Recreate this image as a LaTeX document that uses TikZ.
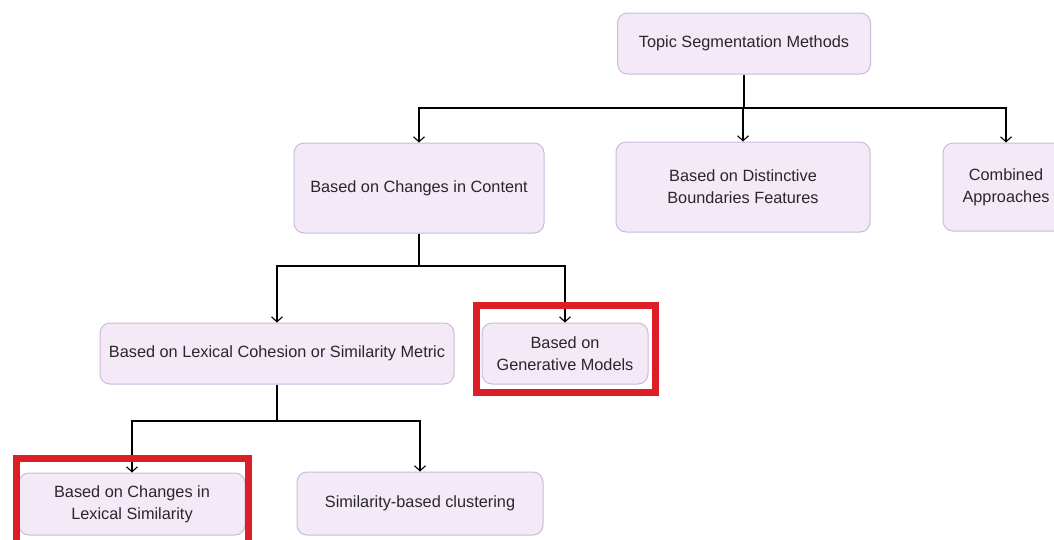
\documentclass[tikz,border=0pt]{standalone}
\usepackage{fontspec}
\setmainfont{Liberation Sans}
\usepackage{tikz}
\usetikzlibrary{arrows.meta}
\definecolor{TopicBoxFill}{RGB}{243,233,247}
\definecolor{TopicBoxLine}{RGB}{205,186,218}
\definecolor{TopicText}{RGB}{40,40,40}
\definecolor{TopicMark}{RGB}{222,30,38}

\begin{document}
\begin{tikzpicture}[x=1pt,y=-1pt,
  tbox/.style n args={2}{draw=TopicBoxLine,fill=TopicBoxFill,line width=1pt,rounded corners=10pt,
     minimum width=#1pt,minimum height=#2pt,align=center,text=TopicText,
     font=\fontsize{16.3}{22}\selectfont,inner sep=0pt},
  arr/.style={line width=1.3pt,-{Straight Barb[length=5pt,width=11pt,line width=1.1pt]}},
  ln/.style={line width=1.3pt},
  hilite/.style={draw=TopicMark,line width=7pt}]
\useasboundingbox (0,0) rectangle (1054,539);
\clip (0,0) rectangle (1054,539);
\node[tbox={253}{61}](top) at (744,43.5) {Topic Segmentation Methods};
\node[tbox={250}{90}](content) at (419,188) {Based on Changes in Content};
\node[tbox={254}{90}](distinct) at (743,187) {Based on Distinctive\\Boundaries Features};
\node[tbox={126}{88}](combined) at (1006,187) {Combined\\Approaches};
\node[tbox={354}{61}](lexical) at (277,353.5) {Based on Lexical Cohesion or Similarity Metric};
\node[tbox={166}{61}](generative) at (565,353.5) {Based on\\Generative Models};
\node[tbox={226}{62}](lexsim) at (132,504) {Based on Changes in\\Lexical Similarity};
\node[tbox={246}{63}](cluster) at (420,503.5) {Similarity-based clustering};
% bars
\coordinate (b0) at (744,108);
\coordinate (b1) at (419,266);
\coordinate (b2) at (277,421);
\draw[ln] (top.south) -- (b0);
\draw[ln] (content.south) -- (b1);
\draw[ln] (lexical.south) -- (b2);
\foreach \n in {content,distinct,combined} {
   \draw[arr] (b0) -| (\n.north);
}
\foreach \n in {lexical,generative} {
   \draw[arr] (b1) -| (\n.north);
}
\foreach \n in {lexsim,cluster} {
   \draw[arr] (b2) -| (\n.north);
}
% highlights
\draw[hilite] (476.5,305.5) rectangle (655.5,392.5);
\draw[hilite] (16.5,458.5) rectangle (248.5,560);
\end{tikzpicture}
\end{document}
